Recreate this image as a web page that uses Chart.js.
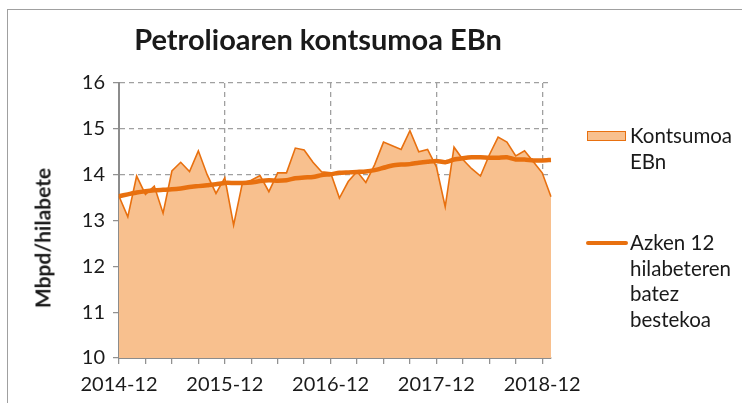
<!DOCTYPE html>
<html>
<head>
<meta charset="utf-8">
<script src="https://cdn.jsdelivr.net/npm/chart.js@4"></script>
<style>
  body { margin: 0; background: #fff; font-family: Lato, sans-serif; color: #1a1a1a; }
  #wrap { position: relative; width: 742px; height: 403px; overflow: hidden; }
  #frame { position: absolute; left: 7px; top: 9px; width: 800px; height: 500px; border-top: 1px solid #a0a0a0; border-left: 1px solid #a0a0a0; }
  #title { position: absolute; left: 118px; width: 400px; top: 22px; text-align: center; font-weight: bold; font-size: 29px; line-height: 34px; }
  #ytitle { position: absolute; left: 42px; top: 238px; transform: translate(-50%, -50%) rotate(-90deg); white-space: nowrap; font-weight: bold; font-size: 21px; }
  .leg { position: absolute; font-size: 20.5px; line-height: 25.7px; }
  .sw { position: absolute; }
  canvas { position: absolute; left: 0; top: 0; }
</style>
</head>
<body>
<div id="wrap">
  <div id="frame"></div>
  <canvas id="myChart" width="742" height="403"></canvas>
  <div id="title">Petrolioaren kontsumoa EBn</div>
  <div id="ytitle">Mbpd/hilabete</div>
  <div class="sw" style="left:587px;top:131px;width:37px;height:8px;background:#f8c08e;border:1.5px solid #e8700f;"></div>
  <div class="leg" style="left:630px;top:123px;">Kontsumoa<br>EBn</div>
  <div class="sw" style="left:586px;top:241px;width:42px;height:4px;background:#e8700f;border-radius:2px;"></div>
  <div class="leg" style="left:630px;top:230px;">Azken 12<br>hilabeteren<br>batez<br>bestekoa</div>
</div>
<script>
// months 2014-12 .. 2019-01
const months = [];
for (let y = 2014, m = 12; months.length < 50; m++) {
  if (m > 12) { m = 1; y++; }
  months.push(y + "-" + String(m).padStart(2, "0"));
}

// consumption, Mbpd per month
const consumption = [
  13.53, 13.08, 13.97, 13.57, 13.75, 13.16, 14.08, 14.27, 14.07, 14.52, 14.0, 13.59,
  13.93, 12.9, 13.82, 13.88, 13.98, 13.63, 14.04, 14.04, 14.58, 14.54, 14.27, 14.06,
  14.04, 13.49, 13.85, 14.07, 13.83, 14.22, 14.71, 14.63, 14.55, 14.96, 14.5, 14.55,
  14.17, 13.3, 14.6, 14.33, 14.13, 13.97, 14.43, 14.82, 14.71, 14.41, 14.52, 14.28,
  14.04, 13.52
];

// 12 month average
const average12 = [
  13.53, 13.57, 13.61, 13.64, 13.66, 13.67, 13.68, 13.70, 13.73, 13.75, 13.77, 13.79,
  13.82, 13.82, 13.82, 13.83, 13.86, 13.88, 13.87, 13.88, 13.92, 13.94, 13.95, 13.99,
  14.01, 14.04, 14.05, 14.06, 14.07, 14.10, 14.15, 14.20, 14.22, 14.23, 14.26, 14.28,
  14.30, 14.27, 14.33, 14.36, 14.38, 14.38, 14.37, 14.37, 14.38, 14.33, 14.33, 14.31,
  14.31, 14.32
];

const yTicks = [10, 11, 12, 13, 14, 15, 16];

const orange = "#e8700f";
const peach = "#f8c08e";
const axisGray = "#8c8c8c";
const gridGray = "#a0a0a0";

const ctx = document.getElementById("myChart").getContext("2d");
const chart = new Chart(ctx, {
  type: "line",
  data: {
    labels: months,
    datasets: [
      {
        label: "Kontsumoa EBn",
        data: consumption,
        borderColor: orange,
        borderWidth: 1.6,
        backgroundColor: peach,
        fill: "start",
        pointRadius: 0,
        tension: 0,
        order: 2,
      },
      {
        label: "Azken 12 hilabeteren batez bestekoa",
        data: average12,
        borderColor: orange,
        borderWidth: 4.5,
        fill: false,
        pointRadius: 0,
        tension: 0.2,
        order: 1,
      },
    ],
  },
  options: {
    responsive: false,
    animation: false,
    layout: { padding: { left: 28, top: 83, right: 191, bottom: 0 } },
    plugins: {
      legend: { display: false },
      title: { display: false },
      tooltip: { enabled: false },
    },
    scales: {
      x: {
        type: "category",
        offset: false,
        afterFit: (s) => { s.height = 45; },
        grid: {
          color: (c) => (c.index % 12 === 0 && c.index > 0 ? gridGray : "rgba(0,0,0,0)"),
          lineWidth: 1.3,
          tickColor: (c) => (c.index % 3 === 0 && c.index < 49 ? axisGray : "rgba(0,0,0,0)"),
          tickLength: 6,
          tickWidth: 1.2,
        },
        border: { color: axisGray, width: 2, dash: [5, 4] },
        ticks: {
          autoSkip: false,
          maxRotation: 0,
          padding: 9,
          color: "#1a1a1a",
          font: { family: "Lato", size: 20 },
          callback: (v, i) => (i % 12 === 0 ? months[i] : ""),
        },
      },
      y: {
        min: 10,
        max: 16,
        afterFit: (s) => { s.width = 91; },
        afterBuildTicks: (s) => { s.ticks = yTicks.map((v) => ({ value: v })); },
        grid: {
          color: (c) => (c.tick.value > 10 ? gridGray : "rgba(0,0,0,0)"),
          lineWidth: 1.3,
          tickColor: axisGray,
          tickLength: 6,
          tickWidth: 1.2,
        },
        border: { color: axisGray, width: 2, dash: [5, 4] },
        ticks: {
          padding: 8,
          color: "#1a1a1a",
          font: { family: "Lato", size: 20 },
        },
      },
    },
  },
});
</script>
</body>
</html>
